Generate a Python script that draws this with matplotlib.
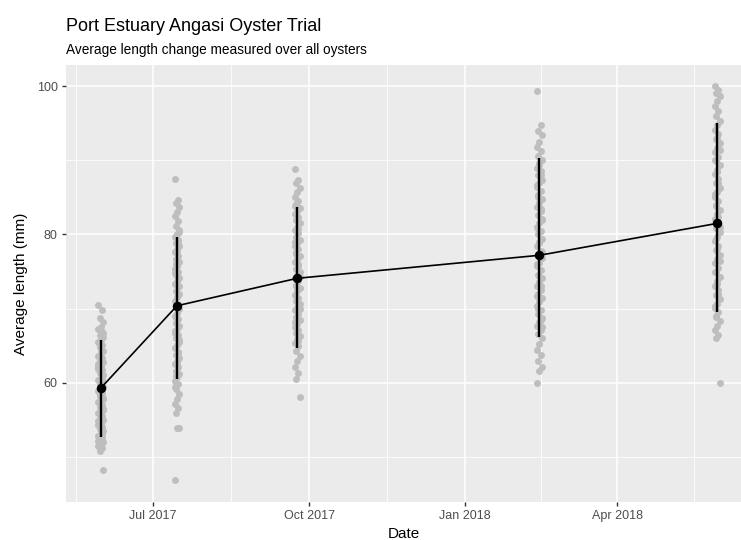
import numpy as np
import pandas as pd
import matplotlib
matplotlib.use("Agg")
import matplotlib.pyplot as plt
import matplotlib.dates as mdates

plt.rcParams["font.family"] = ["Liberation Sans", "DejaVu Sans"]

# sampling dates and per-oyster lengths (mm)
sample_dates = ["2017-05-31", "2017-07-15", "2017-09-24", "2018-02-14", "2018-05-30"]

lengths_may17 = [70.5, 69.8, 68.7, 68.2, 67.6, 67.3, 66.9, 66.4, 66.2, 65.8, 65.5, 65.1,
                 64.8, 64.3, 64.1, 63.7, 63.4, 63.0, 62.8, 62.3, 62.1, 61.7, 61.4, 61.1,
                 60.7, 60.4, 60.2, 59.8, 59.5, 59.3, 58.9, 58.6, 58.4, 58.0, 57.7, 57.5,
                 57.1, 56.8, 56.5, 56.2, 55.9, 55.6, 55.3, 55.0, 54.7, 54.4, 54.1, 53.8,
                 53.5, 53.2, 52.9, 52.6, 52.4, 52.0, 51.8, 51.5, 51.2, 50.9, 48.3,
                 63.2, 61.9, 60.9, 59.1, 57.9, 56.0, 54.9, 53.0, 51.4,
                 66.7, 64.5, 62.6, 60.5, 58.2, 56.4, 54.5, 52.2]
lengths_jul17 = [87.5, 84.6, 84.2, 83.7, 83.0, 82.5, 81.8, 81.2, 80.6, 80.1, 79.7, 79.3,
                 78.9, 78.4, 78.0, 77.6, 77.1, 76.7, 76.3, 75.8, 75.4, 75.0, 74.6, 74.1,
                 73.7, 73.3, 72.9, 72.4, 72.0, 71.6, 71.1, 70.7, 70.3, 69.9, 69.4, 69.0,
                 68.6, 68.1, 67.7, 67.3, 66.8, 66.4, 66.0, 65.5, 65.1, 64.7, 64.2, 63.8,
                 63.4, 62.9, 62.5, 62.1, 61.6, 61.2, 60.8, 60.3, 59.8, 59.2, 58.5, 57.9,
                 57.2, 56.6, 56.0, 54.0, 53.9, 47.0,
                 79.0, 76.0, 73.0, 70.0, 67.0, 64.0, 61.0,
                 80.3, 77.8, 74.8, 71.8, 68.8, 65.8, 62.7, 59.5]
lengths_sep17 = [88.8, 87.4, 86.9, 86.2, 85.7, 85.1, 84.5, 84.1, 83.6, 83.2, 82.8, 82.3,
                 81.9, 81.5, 81.0, 80.6, 80.2, 79.7, 79.3, 78.9, 78.4, 78.0, 77.6, 77.1,
                 76.7, 76.3, 75.8, 75.4, 75.0, 74.5, 74.1, 73.7, 73.2, 72.8, 72.4, 71.9,
                 71.5, 71.1, 70.6, 70.2, 69.8, 69.3, 68.9, 68.5, 68.0, 67.6, 67.2, 66.7,
                 66.3, 65.9, 65.4, 65.0, 64.3, 63.6, 62.9, 62.2, 61.4, 60.6, 58.1,
                 82.0, 79.0, 76.0, 73.0, 70.0, 67.0,
                 83.9, 80.8, 77.4, 74.3, 71.3, 68.2, 65.7]
lengths_feb18 = [99.3, 94.7, 94.0, 93.4, 92.5, 91.8, 91.2, 90.6, 90.1, 89.6, 89.0, 88.5,
                 88.0, 87.4, 86.9, 86.4, 85.8, 85.3, 84.8, 84.2, 83.7, 83.2, 82.6, 82.1,
                 81.6, 81.0, 80.5, 80.0, 79.4, 78.9, 78.4, 77.8, 77.3, 76.8, 76.2, 75.7,
                 75.2, 74.6, 74.1, 73.6, 73.0, 72.5, 72.0, 71.4, 70.9, 70.4, 69.8, 69.3,
                 68.8, 68.2, 67.7, 67.2, 66.6, 66.0, 65.3, 64.5, 63.8, 63.0, 62.2, 61.6,
                 60.0, 88.0, 85.0, 82.0, 79.0, 76.0, 73.0, 70.0, 67.5,
                 89.3, 86.6, 83.5, 80.8, 77.6, 74.4, 71.7, 68.5]
lengths_may18 = [100.0, 99.5, 99.0, 98.6, 98.0, 97.3, 96.6, 95.9, 95.3, 94.7, 94.1, 93.5,
                 92.9, 92.3, 91.7, 91.1, 90.5, 89.9, 89.3, 88.7, 88.1, 87.5, 86.9, 86.3,
                 85.7, 85.1, 84.5, 83.9, 83.3, 82.7, 82.1, 81.5, 80.9, 80.3, 79.7, 79.1,
                 78.5, 77.9, 77.3, 76.7, 76.1, 75.5, 74.9, 74.3, 73.7, 73.1, 72.5, 71.9,
                 71.3, 70.7, 70.1, 69.5, 68.9, 68.3, 67.7, 67.1, 66.5, 66.0, 60.0,
                 93.0, 90.0, 87.0, 84.0, 81.0, 78.0, 75.0, 72.0, 69.0,
                 91.4, 88.4, 85.4, 82.4, 79.4, 76.4, 73.4, 70.4]

# mean and mean +/- sd per sampling
mean_length = [59.3, 70.4, 74.1, 77.2, 81.5]
sd_lower = [52.7, 60.5, 64.7, 66.2, 69.6]
sd_upper = [65.8, 79.7, 83.7, 90.3, 95.0]

all_lengths = [lengths_may17, lengths_jul17, lengths_sep17, lengths_feb18, lengths_may18]

dates = mdates.date2num(pd.to_datetime(sample_dates))

fig = plt.figure(figsize=(7.41, 5.40), dpi=100)
ax = fig.add_axes([66 / 741, 38 / 540, 675 / 741, 437 / 540])
ax.set_facecolor("#EBEBEB")
for s in ax.spines.values():
    s.set_visible(False)

# raw oyster lengths, with a small fixed horizontal spread
for d, vals in zip(dates, all_lengths):
    n = len(vals)
    spread = ((np.arange(n) * 3) % 5 - 2) * 0.7
    ax.scatter(d + spread, vals, s=25, color="#BEBEBE", linewidths=0, zorder=2)

ax.vlines(dates, sd_lower, sd_upper, color="black", linewidth=1.7, zorder=3)
ax.plot(dates, mean_length, color="black", linewidth=1.2, zorder=4)
ax.scatter(dates, mean_length, s=34, color="black", zorder=5)

# axes limits / breaks
x_lo = mdates.date2num(pd.Timestamp("2017-05-10 12:00"))
x_hi = mdates.date2num(pd.Timestamp("2018-06-13"))
ax.set_xlim(x_lo, x_hi)
ax.set_ylim(43.97, 102.83)

major_x = mdates.date2num(pd.to_datetime(["2017-04-01", "2017-07-01", "2017-10-01",
                                          "2018-01-01", "2018-04-01", "2018-07-01"]))
ax.set_xticks(major_x[1:-1])
ax.xaxis.set_major_formatter(mdates.DateFormatter("%b %Y"))
ax.set_xticks((major_x[:-1] + major_x[1:]) / 2, minor=True)
ax.set_yticks([60, 80, 100])
ax.set_yticks([50, 70, 90], minor=True)

ax.grid(which="major", color="white", linewidth=1.1, zorder=0)
ax.grid(which="minor", color="white", linewidth=0.55, zorder=0)
ax.set_axisbelow(True)

ax.tick_params(axis="both", which="major", length=3, width=1.0, color="#333333",
               labelsize=9, labelcolor="#4D4D4D", pad=3)
ax.tick_params(axis="both", which="minor", length=0)

ax.set_xlabel("Date", fontsize=11, color="black", labelpad=3)
ax.set_ylabel("Average length (mm)", fontsize=11, color="black", labelpad=6)

fig.text(66 / 741, 1 - 31 / 540, "Port Estuary Angasi Oyster Trial", fontsize=13,
         ha="left", va="baseline")
fig.text(66 / 741, 1 - 54 / 540, "Average length change measured over all oysters",
         fontsize=9.8, ha="left", va="baseline")

fig.savefig("out.png", dpi=100)
